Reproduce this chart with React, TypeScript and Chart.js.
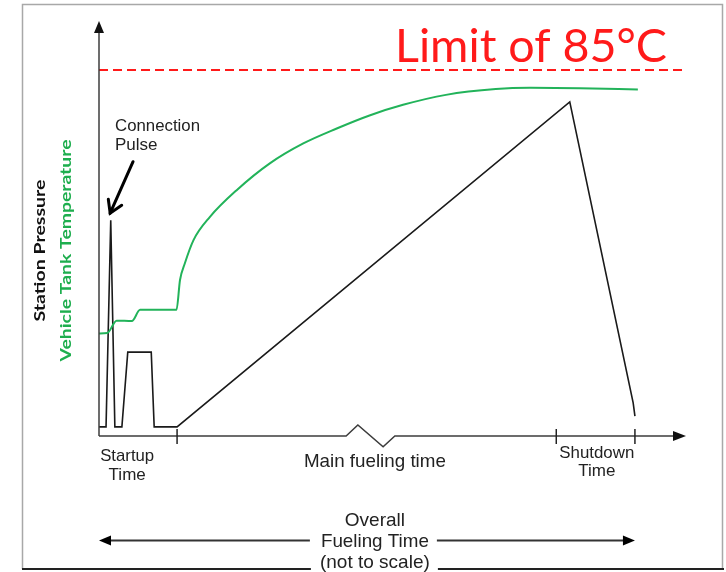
import React, { useEffect, useRef } from "react";
import { Chart, registerables } from "chart.js";

Chart.register(...registerables);

// ---- data (unitless schematic: x = time share, y = level share) ----
const X_MIN = 0;
const X_MAX = 100;
const Y_MIN = 0;
const Y_MAX = 100;

const pressureX = [0, 1.2, 2.0, 2.7, 3.9, 4.9, 8.9, 9.4, 13.3, 80.2, 91.0, 91.3];
const pressureY = [2.2, 2.2, 52.0, 2.2, 2.2, 20.2, 20.2, 2.2, 2.2, 80.5, 8.0, 4.8];

const tempX = [0, 1.4, 3.0, 5.6, 7.0, 13.2, 13.8, 14.6, 16.1, 18.9, 23.5, 29.1, 34.8, 40.5, 46.2, 51.8, 59.1, 67.6, 73.4, 81.9, 91.8];
const tempY = [24.7, 24.8, 27.8, 27.7, 30.4, 30.4, 37.6, 41.5, 47.2, 52.8, 59.3, 65.7, 70.5, 74.1, 77.3, 79.8, 82.2, 83.6, 83.9, 83.8, 83.5];

const limitX = [0, 99.5];
const limitY = [88.2, 88.2];
const limitLabel = "Limit of 85°C";

// x axis with a "not to scale" break
const axisX = [0, 42.1, 44.1, 48.4, 50.4, 100];
const axisY = [0, 0, 2.65, -2.6, 0, 0];

const phaseTickX = [13.3, 77.9, 91.3];
const phaseLabelX = [4.8, 47.0, 84.8];
const phaseLabels = [["Startup", "Time"], ["Main fueling time"], ["Shutdown", "Time"]];

const pulseArrowFrom = [5.8, 66.1];
const pulseArrowTo = [1.9, 53.7];
const pulseLabel = ["Connection", "Pulse"];

const overallLabel = ["Overall", "Fueling Time", "(not to scale)"];
const overallFromX = 0;
const overallToX = 91.3;

const yTitleBlack = "Station Pressure";
const yTitleGreen = "Vehicle Tank Temperature";

const BLACK = "#1a1a1a";
const GREEN = "#22b35a";
const RED = "#ff1a1a";
const AXIS = "#3c3c3c";

function drawText(
  ctx: CanvasRenderingContext2D,
  text: string,
  x: number,
  y: number,
  font: string,
  color: string,
  opts: { align?: CanvasTextAlign; baseline?: CanvasTextBaseline; width?: number; rotate?: number } = {}
) {
  ctx.save();
  ctx.font = font;
  ctx.fillStyle = color;
  ctx.textAlign = opts.align || "center";
  ctx.textBaseline = opts.baseline || "middle";
  const w = ctx.measureText(text).width;
  const sx = opts.width ? opts.width / w : 1;
  ctx.translate(x, y);
  if (opts.rotate) ctx.rotate(opts.rotate);
  ctx.scale(sx, 1);
  ctx.fillText(text, 0, 0);
  ctx.restore();
}

function filledHead(ctx: CanvasRenderingContext2D, tx: number, ty: number, angle: number, len: number, half: number) {
  ctx.save();
  ctx.translate(tx, ty);
  ctx.rotate(angle);
  ctx.beginPath();
  ctx.moveTo(0, 0);
  ctx.lineTo(-len, -half);
  ctx.lineTo(-len, half);
  ctx.closePath();
  ctx.fill();
  ctx.restore();
}

const decorPlugin = {
  id: "decor",
  afterDraw(chart: any) {
    const ctx: CanvasRenderingContext2D = chart.ctx;
    const xs = chart.scales.x;
    const ys = chart.scales.y;
    const px = (v: number) => xs.getPixelForValue(v);
    const py = (v: number) => ys.getPixelForValue(v);
    const W = chart.width;
    const H = chart.height;

    ctx.save();
    // frame
    ctx.strokeStyle = "#a8a8a8";
    ctx.lineWidth = 1.5;
    ctx.beginPath();
    ctx.moveTo(22.5, H - 3);
    ctx.lineTo(22.5, 4.5);
    ctx.lineTo(W - 3.5, 4.5);
    ctx.lineTo(W - 3.5, H - 3);
    ctx.stroke();
    ctx.strokeStyle = "#222";
    ctx.lineWidth = 2;
    ctx.beginPath();
    ctx.moveTo(22, H - 3);
    ctx.lineTo(W - 2, H - 3);
    ctx.stroke();

    // y axis with arrow
    ctx.strokeStyle = AXIS;
    ctx.fillStyle = "#111";
    ctx.lineWidth = 1.5;
    ctx.beginPath();
    ctx.moveTo(px(X_MIN), py(Y_MIN));
    ctx.lineTo(px(X_MIN), py(Y_MAX) + 8);
    ctx.stroke();
    filledHead(ctx, px(X_MIN), py(Y_MAX), -Math.PI / 2, 12, 5);

    // x axis with break and arrow
    ctx.beginPath();
    axisX.forEach((v, i) => {
      const X = px(v);
      const Y = py(axisY[i]);
      if (i === 0) ctx.moveTo(X, Y);
      else ctx.lineTo(i === axisX.length - 1 ? X - 8 : X, Y);
    });
    ctx.stroke();
    filledHead(ctx, px(X_MAX), py(Y_MIN), 0, 13, 5);

    // phase ticks
    ctx.strokeStyle = "#222";
    ctx.lineWidth = 1.5;
    phaseTickX.forEach((v) => {
      ctx.beginPath();
      ctx.moveTo(px(v), py(Y_MIN) - 7);
      ctx.lineTo(px(v), py(Y_MIN) + 8);
      ctx.stroke();
    });

    // phase labels
    const small = "17px 'Liberation Sans', Arial, sans-serif";
    const big = "19px 'Liberation Sans', Arial, sans-serif";
    const base = py(Y_MIN);
    drawText(ctx, phaseLabels[0][0], px(phaseLabelX[0]), base + 20, small, "#222", { width: 54 });
    drawText(ctx, phaseLabels[0][1], px(phaseLabelX[0]), base + 39, small, "#222");
    drawText(ctx, phaseLabels[1][0], px(phaseLabelX[1]), base + 26, big, "#222", { width: 142 });
    drawText(ctx, phaseLabels[2][0], px(phaseLabelX[2]), base + 17, small, "#222", { width: 75 });
    drawText(ctx, phaseLabels[2][1], px(phaseLabelX[2]), base + 35, small, "#222");

    // limit label
    drawText(ctx, limitLabel, 531, py(limitY[0]) - 8, "47px Lato, 'Liberation Sans', sans-serif", RED, {
      baseline: "alphabetic",
      width: 272,
    });

    // y titles
    const midY = (py(Y_MIN) + py(Y_MAX)) / 2 + 22;
    drawText(ctx, yTitleBlack, 40, midY, "bold 16px Lato, 'Open Sans', sans-serif", "#111", {
      rotate: -Math.PI / 2,
      width: 142,
    });
    drawText(ctx, yTitleGreen, 66, midY, "bold 16px Lato, 'Open Sans', sans-serif", "#1eae4e", {
      rotate: -Math.PI / 2,
      width: 222,
    });

    // connection pulse label and arrow
    const lx = px(X_MIN) + 16;
    drawText(ctx, pulseLabel[0], lx, 126, small, "#222", { align: "left", width: 85 });
    drawText(ctx, pulseLabel[1], lx, 145, small, "#222", { align: "left" });
    const ax0 = px(pulseArrowFrom[0]);
    const ay0 = py(pulseArrowFrom[1]);
    const ax1 = px(pulseArrowTo[0]);
    const ay1 = py(pulseArrowTo[1]);
    const ang = Math.atan2(ay1 - ay0, ax1 - ax0);
    ctx.strokeStyle = "#000";
    ctx.lineWidth = 3;
    ctx.lineCap = "round";
    ctx.beginPath();
    ctx.moveTo(ax0, ay0);
    ctx.lineTo(ax1, ay1);
    ctx.stroke();
    ctx.beginPath();
    ctx.moveTo(ax1 - 14 * Math.cos(ang - 0.55), ay1 - 14 * Math.sin(ang - 0.55));
    ctx.lineTo(ax1, ay1);
    ctx.lineTo(ax1 - 14 * Math.cos(ang + 0.55), ay1 - 14 * Math.sin(ang + 0.55));
    ctx.stroke();
    ctx.lineCap = "butt";

    // overall fueling time block
    const cx = px(phaseLabelX[1]);
    const ay = 540.5;
    ctx.fillStyle = "#fff";
    ctx.fillRect(cx - 64, 505, 127, H - 505);
    ctx.strokeStyle = "#333";
    ctx.fillStyle = "#000";
    ctx.lineWidth = 2;
    ctx.beginPath();
    ctx.moveTo(px(overallFromX) + 10, ay);
    ctx.lineTo(cx - 65, ay);
    ctx.moveTo(cx + 62, ay);
    ctx.lineTo(px(overallToX) - 10, ay);
    ctx.stroke();
    filledHead(ctx, px(overallFromX), ay, Math.PI, 12, 5);
    filledHead(ctx, px(overallToX), ay, 0, 12, 5);
    drawText(ctx, overallLabel[0], cx, 521, big, "#222");
    drawText(ctx, overallLabel[1], cx, 542, big, "#222", { width: 108 });
    drawText(ctx, overallLabel[2], cx, 563, big, "#222");
    ctx.restore();
  },
};

export default function App() {
  const ref = useRef<HTMLCanvasElement | null>(null);

  useEffect(() => {
    if (!ref.current) return;
    const toPts = (xs: number[], ys: number[]) => xs.map((x, i) => ({ x, y: ys[i] }));
    const chart = new Chart(ref.current, {
      type: "line",
      data: {
        datasets: [
          {
            label: "Limit",
            data: toPts(limitX, limitY),
            borderColor: RED,
            borderWidth: 2,
            borderDash: [9, 5],
            pointRadius: 0,
            clip: false as any,
          },
          {
            label: yTitleGreen,
            data: toPts(tempX, tempY),
            borderColor: GREEN,
            borderWidth: 2,
            pointRadius: 0,
            cubicInterpolationMode: "monotone",
            clip: false as any,
          },
          {
            label: yTitleBlack,
            data: toPts(pressureX, pressureY),
            borderColor: BLACK,
            borderWidth: 1.6,
            pointRadius: 0,
            tension: 0,
            clip: false as any,
          },
        ],
      },
      options: {
        responsive: true,
        maintainAspectRatio: false,
        animation: false,
        layout: { padding: { left: 99, right: 40, top: 21, bottom: 136 } },
        scales: {
          x: { type: "linear", min: X_MIN, max: X_MAX, display: false },
          y: { type: "linear", min: Y_MIN, max: Y_MAX, display: false },
        },
        plugins: { legend: { display: false }, tooltip: { enabled: false } },
      },
      plugins: [decorPlugin],
    });
    return () => chart.destroy();
  }, []);

  return (
    <div style={{ position: "absolute", left: 0, top: 0, width: 726, height: 572, background: "#fff" }}>
      <canvas ref={ref} />
    </div>
  );
}
